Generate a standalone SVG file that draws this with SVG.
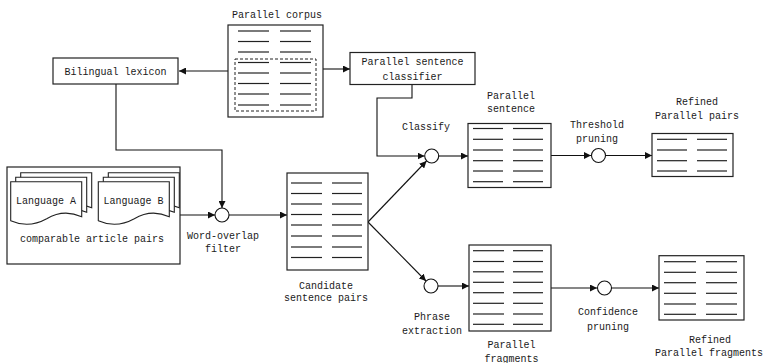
<svg xmlns="http://www.w3.org/2000/svg" width="764" height="363" viewBox="0 0 764 363">
  <style>
    text { font-family: "Liberation Mono", "DejaVu Sans Mono", monospace; font-size: 10px; fill: #1a1a1a; text-anchor: middle; }
    .box { fill: #fff; stroke: #222; stroke-width: 1.2; }
    .ln { stroke: #222; stroke-width: 1.2; fill: none; }
    .dash { fill: none; stroke: #222; stroke-width: 1; stroke-dasharray: 3 2; }
    .edge { fill: none; stroke: #111; stroke-width: 1.1; }
    .op { fill: #fff; stroke: #111; stroke-width: 1.1; }
    .doc { fill: #fff; stroke: #222; stroke-width: 1.1; }
  </style>
  <defs>
    <marker id="arrow" viewBox="0 0 10 10" refX="10" refY="5" markerWidth="7" markerHeight="7" markerUnits="userSpaceOnUse" orient="auto">
      <path d="M0,0 L10,5 L0,10 Z" fill="#111"/>
    </marker>
    <path id="docshape" d="M0,0 H71 V35 Q53,27 36,37 Q18,47 0,39 Z"/>
  </defs>

  <!-- connectors -->
  <g id="connectors">
    <line class="edge" x1="228" y1="71" x2="179" y2="71" marker-end="url(#arrow)"/>
    <line class="edge" x1="323" y1="69" x2="350" y2="69" marker-end="url(#arrow)"/>
    <polyline class="edge" points="116,84 116,150 222,150 222,208" marker-end="url(#arrow)"/>
    <line class="edge" x1="180" y1="215" x2="215" y2="215" marker-end="url(#arrow)"/>
    <line class="edge" x1="229" y1="215" x2="287" y2="215" marker-end="url(#arrow)"/>
    <polyline class="edge" points="412,84 412,98 377,98 377,156 424.5,156" marker-end="url(#arrow)"/>
    <line class="edge" x1="368" y1="222" x2="426.5" y2="161" marker-end="url(#arrow)"/>
    <line class="edge" x1="368" y1="222" x2="426" y2="281" marker-end="url(#arrow)"/>
    <line class="edge" x1="439" y1="156" x2="468" y2="156" marker-end="url(#arrow)"/>
    <line class="edge" x1="551" y1="155.5" x2="591" y2="155.5" marker-end="url(#arrow)"/>
    <line class="edge" x1="605.5" y1="155.5" x2="652" y2="155.5" marker-end="url(#arrow)"/>
    <line class="edge" x1="438" y1="286" x2="469" y2="286" marker-end="url(#arrow)"/>
    <line class="edge" x1="551" y1="288" x2="597" y2="288" marker-end="url(#arrow)"/>
    <line class="edge" x1="611.5" y1="288" x2="659" y2="288" marker-end="url(#arrow)"/>
  </g>

  <!-- parallel corpus -->
  <g id="parallel-corpus">
    <text x="277" y="17.5">Parallel corpus</text>
    <rect class="box" x="228" y="25" width="95" height="92"/>
    <rect class="dash" x="235" y="59" width="81" height="52"/>
    <g class="ln">
      <line x1="238" y1="31" x2="269" y2="31"/><line x1="280" y1="31" x2="311" y2="31"/>
      <line x1="238" y1="41.5" x2="269" y2="41.5"/><line x1="280" y1="41.5" x2="311" y2="41.5"/>
      <line x1="238" y1="52" x2="269" y2="52"/><line x1="280" y1="52" x2="311" y2="52"/>
      <line x1="238" y1="62.5" x2="269" y2="62.5"/><line x1="280" y1="62.5" x2="311" y2="62.5"/>
      <line x1="238" y1="73" x2="269" y2="73"/><line x1="280" y1="73" x2="311" y2="73"/>
      <line x1="238" y1="83.5" x2="269" y2="83.5"/><line x1="280" y1="83.5" x2="311" y2="83.5"/>
      <line x1="238" y1="94" x2="269" y2="94"/><line x1="280" y1="94" x2="311" y2="94"/>
      <line x1="238" y1="105" x2="269" y2="105"/><line x1="280" y1="105" x2="311" y2="105"/>
    </g>
  </g>

  <!-- bilingual lexicon -->
  <g id="bilingual-lexicon">
    <rect class="box" x="53" y="58" width="125" height="26"/>
    <text x="115.5" y="74.5">Bilingual lexicon</text>
  </g>

  <!-- parallel sentence classifier -->
  <g id="classifier">
    <rect class="box" x="350" y="52.5" width="125" height="32"/>
    <text x="412.5" y="65">Parallel sentence</text>
    <text x="412.5" y="79.5">classifier</text>
  </g>

  <!-- comparable article pairs -->
  <g id="article-pairs">
    <rect class="box" x="7" y="167" width="173" height="97"/>
    <use href="#docshape" class="doc" x="20.7" y="172.7"/>
    <use href="#docshape" class="doc" x="15.7" y="177.2"/>
    <use href="#docshape" class="doc" x="10.7" y="181.7"/>
    <use href="#docshape" class="doc" x="108.3" y="172.7"/>
    <use href="#docshape" class="doc" x="103.3" y="177.2"/>
    <use href="#docshape" class="doc" x="98.3" y="181.7"/>
    <text x="46" y="203.5">Language A</text>
    <text x="133.5" y="203.5">Language B</text>
    <text x="92" y="241.5">comparable article pairs</text>
  </g>

  <!-- word-overlap filter -->
  <g id="word-overlap-filter">
    <circle class="op" cx="222" cy="215" r="7"/>
    <text x="223" y="238.5">Word-overlap</text>
    <text x="223" y="251.5">filter</text>
  </g>

  <!-- candidate sentence pairs -->
  <g id="candidate-pairs">
    <rect class="box" x="287" y="173" width="81" height="97"/>
    <g class="ln">
      <line x1="291" y1="183" x2="322" y2="183"/><line x1="332" y1="183" x2="362" y2="183"/>
      <line x1="291" y1="193.5" x2="322" y2="193.5"/><line x1="332" y1="193.5" x2="362" y2="193.5"/>
      <line x1="291" y1="204" x2="322" y2="204"/><line x1="332" y1="204" x2="362" y2="204"/>
      <line x1="291" y1="214.5" x2="322" y2="214.5"/><line x1="332" y1="214.5" x2="362" y2="214.5"/>
      <line x1="291" y1="225" x2="322" y2="225"/><line x1="332" y1="225" x2="362" y2="225"/>
      <line x1="291" y1="236" x2="322" y2="236"/><line x1="332" y1="236" x2="362" y2="236"/>
      <line x1="291" y1="247" x2="322" y2="247"/><line x1="332" y1="247" x2="362" y2="247"/>
      <line x1="291" y1="257.5" x2="322" y2="257.5"/><line x1="332" y1="257.5" x2="362" y2="257.5"/>
    </g>
    <text x="326" y="288.5">Candidate</text>
    <text x="326" y="301">sentence pairs</text>
  </g>

  <!-- classify -->
  <g id="classify">
    <circle class="op" cx="431.7" cy="156" r="7"/>
    <text x="426" y="129.5">Classify</text>
  </g>

  <!-- parallel sentence -->
  <g id="parallel-sentence">
    <text x="511" y="98.5">Parallel</text>
    <text x="511" y="112">sentence</text>
    <rect class="box" x="468" y="123.5" width="83" height="64"/>
    <g class="ln">
      <line x1="473" y1="128.5" x2="503" y2="128.5"/><line x1="513" y1="128.5" x2="543" y2="128.5"/>
      <line x1="473" y1="139.3" x2="503" y2="139.3"/><line x1="513" y1="139.3" x2="543" y2="139.3"/>
      <line x1="473" y1="150" x2="503" y2="150"/><line x1="513" y1="150" x2="543" y2="150"/>
      <line x1="473" y1="160.7" x2="503" y2="160.7"/><line x1="513" y1="160.7" x2="543" y2="160.7"/>
      <line x1="473" y1="171" x2="503" y2="171"/><line x1="513" y1="171" x2="543" y2="171"/>
      <line x1="473" y1="181.7" x2="503" y2="181.7"/><line x1="513" y1="181.7" x2="543" y2="181.7"/>
    </g>
  </g>

  <!-- threshold pruning -->
  <g id="threshold-pruning">
    <circle class="op" cx="598.5" cy="155.5" r="7"/>
    <text x="597" y="128">Threshold</text>
    <text x="597" y="142">pruning</text>
  </g>

  <!-- refined parallel pairs -->
  <g id="refined-pairs">
    <text x="697" y="104.5">Refined</text>
    <text x="697" y="119">Parallel pairs</text>
    <rect class="box" x="652" y="133.5" width="81" height="43"/>
    <g class="ln">
      <line x1="657" y1="139.3" x2="687" y2="139.3"/><line x1="697" y1="139.3" x2="727" y2="139.3"/>
      <line x1="657" y1="150" x2="687" y2="150"/><line x1="697" y1="150" x2="727" y2="150"/>
      <line x1="657" y1="160.7" x2="687" y2="160.7"/><line x1="697" y1="160.7" x2="727" y2="160.7"/>
      <line x1="657" y1="171" x2="687" y2="171"/><line x1="697" y1="171" x2="727" y2="171"/>
    </g>
  </g>

  <!-- phrase extraction -->
  <g id="phrase-extraction">
    <circle class="op" cx="431" cy="286" r="7"/>
    <text x="432" y="319.5">Phrase</text>
    <text x="432" y="334">extraction</text>
  </g>

  <!-- parallel fragments -->
  <g id="parallel-fragments">
    <rect class="box" x="469" y="245" width="82" height="86"/>
    <g class="ln">
      <line x1="473" y1="250.7" x2="504" y2="250.7"/><line x1="513" y1="250.7" x2="543" y2="250.7"/>
      <line x1="473" y1="261.5" x2="504" y2="261.5"/><line x1="513" y1="261.5" x2="543" y2="261.5"/>
      <line x1="473" y1="271.8" x2="504" y2="271.8"/><line x1="513" y1="271.8" x2="543" y2="271.8"/>
      <line x1="473" y1="282.3" x2="504" y2="282.3"/><line x1="513" y1="282.3" x2="543" y2="282.3"/>
      <line x1="473" y1="292.7" x2="504" y2="292.7"/><line x1="513" y1="292.7" x2="543" y2="292.7"/>
      <line x1="473" y1="303.3" x2="504" y2="303.3"/><line x1="513" y1="303.3" x2="543" y2="303.3"/>
      <line x1="473" y1="314" x2="504" y2="314"/><line x1="513" y1="314" x2="543" y2="314"/>
      <line x1="473" y1="324.3" x2="504" y2="324.3"/><line x1="513" y1="324.3" x2="543" y2="324.3"/>
    </g>
    <text x="511.5" y="347.5">Parallel</text>
    <text x="511.5" y="361.5">fragments</text>
  </g>

  <!-- confidence pruning -->
  <g id="confidence-pruning">
    <circle class="op" cx="604.5" cy="288" r="7"/>
    <text x="608" y="315">Confidence</text>
    <text x="608" y="330">pruning</text>
  </g>

  <!-- refined parallel fragments -->
  <g id="refined-fragments">
    <rect class="box" x="659" y="255.7" width="85" height="64.3"/>
    <g class="ln">
      <line x1="664" y1="261.7" x2="696" y2="261.7"/><line x1="706" y1="261.7" x2="737" y2="261.7"/>
      <line x1="664" y1="272.3" x2="696" y2="272.3"/><line x1="706" y1="272.3" x2="737" y2="272.3"/>
      <line x1="664" y1="282.7" x2="696" y2="282.7"/><line x1="706" y1="282.7" x2="737" y2="282.7"/>
      <line x1="664" y1="293.3" x2="696" y2="293.3"/><line x1="706" y1="293.3" x2="737" y2="293.3"/>
      <line x1="664" y1="304" x2="696" y2="304"/><line x1="706" y1="304" x2="737" y2="304"/>
      <line x1="664" y1="314.3" x2="696" y2="314.3"/><line x1="706" y1="314.3" x2="737" y2="314.3"/>
    </g>
    <text x="710" y="342.5">Refined</text>
    <text x="709" y="356">Parallel fragments</text>
  </g>
</svg>
